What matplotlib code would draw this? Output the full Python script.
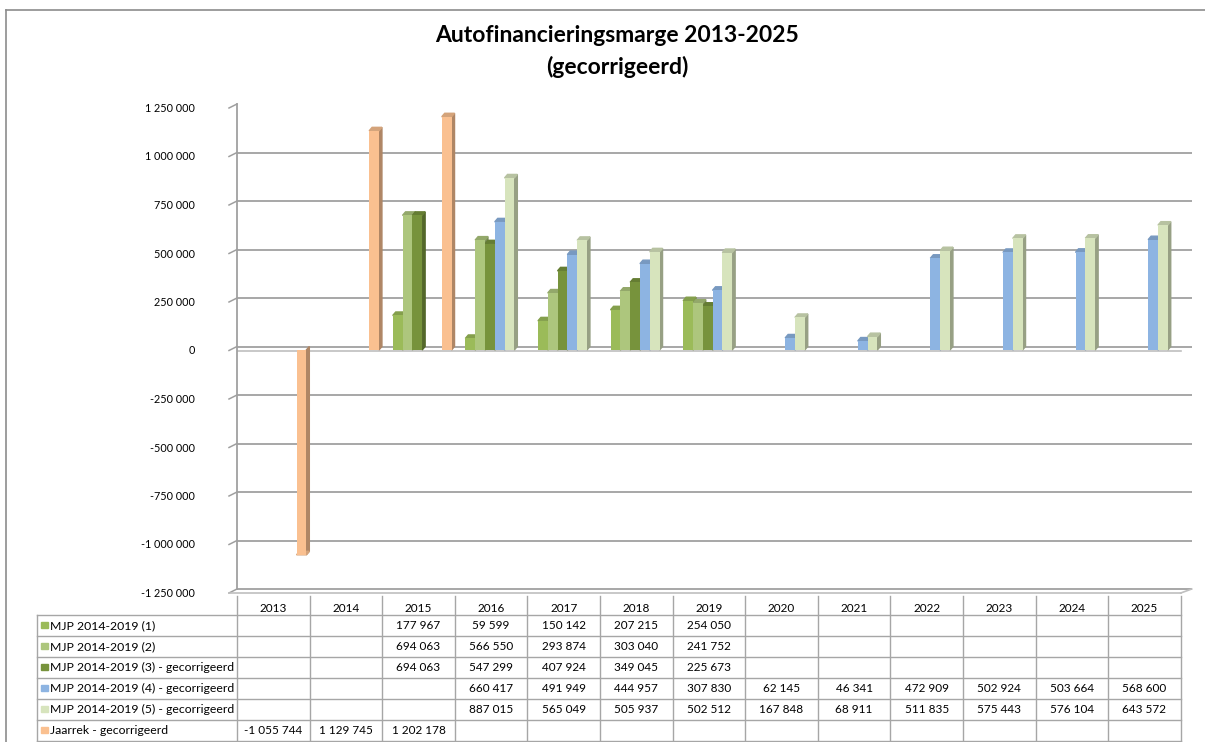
import matplotlib
matplotlib.use('Agg')
import matplotlib.pyplot as plt
import matplotlib.patches as patches
import numpy as np

plt.rcParams['font.family'] = ['Lato', 'DejaVu Sans']

years = [str(y) for y in range(2013, 2026)]

series_names = [
    'MJP 2014-2019 (1)',
    'MJP 2014-2019 (2)',
    'MJP 2014-2019 (3) - gecorrigeerd',
    'MJP 2014-2019 (4) - gecorrigeerd',
    'MJP 2014-2019 (5) - gecorrigeerd',
    'Jaarrek - gecorrigeerd',
]
series_colors = ['#9BBB59', '#ADC67D', '#77933C', '#8DB4E2', '#D7E4BD', '#FAC090']

N = None
mjp1 = [N, N, 177967, 59599, 150142, 207215, 254050, N, N, N, N, N, N]
mjp2 = [N, N, 694063, 566550, 293874, 303040, 241752, N, N, N, N, N, N]
mjp3 = [N, N, 694063, 547299, 407924, 349045, 225673, N, N, N, N, N, N]
mjp4 = [N, N, N, 660417, 491949, 444957, 307830, 62145, 46341, 472909, 502924, 503664, 568600]
mjp5 = [N, N, N, 887015, 565049, 505937, 502512, 167848, 68911, 511835, 575443, 576104, 643572]
jaarrek = [-1055744, 1129745, 1202178, N, N, N, N, N, N, N, N, N, N]
all_series = [mjp1, mjp2, mjp3, mjp4, mjp5, jaarrek]

y_ticks = [1250000, 1000000, 750000, 500000, 250000, 0,
           -250000, -500000, -750000, -1000000, -1250000]


def fmt(v):
    return f'{v:,}'.replace(',', ' ')


def shade(c, f):
    r, g, b = matplotlib.colors.to_rgb(c)
    return (r * f, g * f, b * f)


# figure geometry in pixels
W, H = 1205, 742
X0, CW = 237, 72.6          # left edge of first category, category width
Y0, PX = 350, 48.5 / 250000  # pixel row of value 0, pixels per unit
XR = 12.65                   # right end of back wall in category units
YMAX = 1250000

fig = plt.figure(figsize=(W / 100, H / 100), dpi=100)

# overlay in pixel coordinates: frame, title, data table
ov = fig.add_axes([0, 0, 1, 1])
ov.set_xlim(0, W)
ov.set_ylim(H, 0)
ov.axis('off')

ov.plot([6, 6], [10, H], color='#8C8C8C', lw=1.2)
ov.plot([6, W], [10, 10], color='#8C8C8C', lw=1.2)

ov.text(617, 36, 'Autofinancieringsmarge 2013-2025', ha='center', va='center',
        fontsize=16.5, fontweight='bold')
ov.text(617, 67, '(gecorrigeerd)', ha='center', va='center',
        fontsize=16.5, fontweight='bold')

# data table
line_c = '#A6A6A6'
lab_left = 37
head_top, row_top, row_h = 596, 615, 21
n_rows = len(series_names)
tab_bottom = row_top + n_rows * row_h
col_edges = [X0 + i * CW for i in range(len(years) + 1)]

for i, x in enumerate(col_edges):
    ov.plot([x, x], [head_top, tab_bottom], color=line_c, lw=1)
ov.plot([lab_left, lab_left], [row_top, tab_bottom], color=line_c, lw=1)
for r in range(n_rows + 1):
    y = row_top + r * row_h
    ov.plot([lab_left, col_edges[-1]], [y, y], color=line_c, lw=1)

for i, yr in enumerate(years):
    ov.text(col_edges[i] + CW / 2, 608, yr, ha='center', va='center', fontsize=8.5)

for r, (name, vals, col) in enumerate(zip(series_names, all_series, series_colors)):
    yc = row_top + r * row_h + row_h / 2
    ov.add_patch(patches.Rectangle((41, yc - 4), 6.5, 6.5, color=col))
    ov.text(50, yc, name, ha='left', va='center', fontsize=8.8)
    for i, v in enumerate(vals):
        if v is not None:
            ov.text(col_edges[i] + CW / 2, yc, fmt(v), ha='center', va='center', fontsize=8.5)

# main chart axes
ax_w = (XR + 0.5) * CW
ax_h = 2 * YMAX * PX
ax_bottom = H - (Y0 + YMAX * PX)
ax = fig.add_axes([X0 / W, ax_bottom / H, ax_w / W, ax_h / H])
ax.set_facecolor('none')
ax.set_xlim(-0.5, XR)
ax.set_ylim(-YMAX, YMAX)
for s in ax.spines.values():
    s.set_visible(False)
ax.set_xticks([])
ax.set_yticks(y_ticks)
ax.set_yticklabels([fmt(v) for v in y_ticks], fontsize=7.8)
ax.tick_params(axis='y', length=0, pad=30)

# 3d depth offsets
dx = 3 / CW
dy = 3.5 / PX
tx = 8 / CW
ty = 4 / PX

grid_c = '#A0A0A0'
for v in y_ticks:
    ax.plot([-0.5, XR], [v + dy, v + dy], color=grid_c, lw=1.3, zorder=1)
    ax.plot([-0.5 - tx, -0.5], [v + dy - ty, v + dy], color=grid_c, lw=1.1,
            clip_on=False, zorder=1)
ax.plot([-0.5, -0.5], [-YMAX + dy, YMAX + dy], color=grid_c, lw=1.3, clip_on=False)
# front edges of floor at 0 and at the bottom
ax.plot([-0.5 - tx, 12.5], [-ty + dy, -ty + dy], color='#BFBFBF', lw=1.2, zorder=1)
ax.plot([-0.5 - tx, 12.5], [-YMAX - ty + dy, -YMAX - ty + dy], color='#BFBFBF',
        lw=1.2, clip_on=False, zorder=1)
ax.plot([12.5, XR], [-YMAX - ty + dy, -YMAX + dy], color='#BFBFBF', lw=1.2,
        clip_on=False, zorder=1)

# bars with a simple 3d side and top face
bw = 9.8 / CW
shift = 0.05
x = np.arange(len(years))
for k, (vals, col) in enumerate(zip(all_series, series_colors)):
    for i, v in enumerate(vals):
        if v is None:
            continue
        xc = x[i] + (k - 2.5) * bw + shift
        xl, xr = xc - bw / 2, xc + bw / 2
        ax.bar(xc, v, width=bw, color=col, zorder=3)
        side = [(xr, 0), (xr + dx, dy), (xr + dx, v + dy), (xr, v)]
        ax.add_patch(patches.Polygon(side, closed=True, color=shade(col, 0.7), zorder=2))
        top = [(xl, v), (xr, v), (xr + dx, v + dy), (xl + dx, v + dy)]
        ax.add_patch(patches.Polygon(top, closed=True, color=shade(col, 0.85), zorder=2))

fig.savefig('out.png', dpi=100)
